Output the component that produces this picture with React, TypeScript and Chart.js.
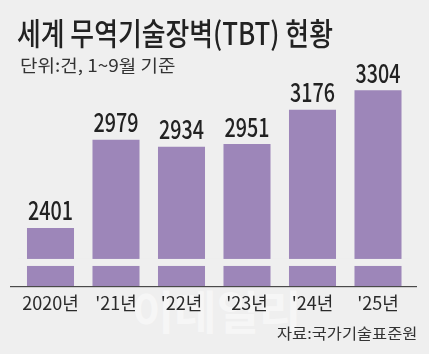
import React, { useEffect, useLayoutEffect, useRef } from "react";
import { Chart, registerables } from "chart.js";

Chart.register(...registerables);

const categories = ["2020년", "'21년", "'22년", "'23년", "'24년", "'25년"];
const values = [2401, 2979, 2934, 2951, 3176, 3304];
const axisMin = 2014;
const axisMax = 3500;
const breakLow = 2152;
const breakHigh = 2198;

const titleText = "세계 무역기술장벽(TBT) 현황";
const subtitleText = "단위:건, 1~9월 기준";
const sourceText = "자료:국가기술표준원";

const FONT = "'Noto Sans CJK KR', 'Noto Sans', sans-serif";
const BG = "#efefef";
const BAR = "#9d86b9";

type FitProps = {
  text: string;
  left: number;
  top: number;
  width: number;
  size: number;
  weight: number;
  color: string;
};

function FitText({ text, left, top, width, size, weight, color }: FitProps) {
  const ref = useRef<HTMLSpanElement>(null);
  useLayoutEffect(() => {
    const el = ref.current;
    if (!el) return;
    const w = el.offsetWidth;
    if (w > 0) el.style.transform = `scaleX(${width / w})`;
  });
  return (
    <span
      ref={ref}
      style={{
        position: "absolute",
        left,
        top,
        fontFamily: FONT,
        fontSize: size,
        fontWeight: weight,
        lineHeight: 1,
        color,
        whiteSpace: "nowrap",
        transformOrigin: "0 0",
      }}
    >
      {text}
    </span>
  );
}

const decoPlugin = {
  id: "deco",
  afterDatasetsDraw(chart: any) {
    const { ctx, chartArea, scales } = chart;
    const y = scales.y;
    const yTop = y.getPixelForValue(breakHigh);
    const yBot = y.getPixelForValue(breakLow);
    ctx.save();
    ctx.fillStyle = BG;
    ctx.fillRect(chartArea.left, yTop, chartArea.right - chartArea.left, yBot - yTop);
    // axis line
    ctx.fillStyle = "#4a4a4a";
    ctx.fillRect(10, Math.round(chartArea.bottom) - 1, 407, 1.2);
    // value labels
    const meta = chart.getDatasetMeta(0);
    ctx.fillStyle = "#222";
    ctx.font = `500 26px ${FONT}`;
    ctx.textAlign = "center";
    ctx.textBaseline = "alphabetic";
    meta.data.forEach((bar: any, i: number) => {
      ctx.fillText(String(values[i]), bar.x, bar.y - 7.5, 45);
    });
    ctx.restore();
  },
};

export default function App() {
  const canvasRef = useRef<HTMLCanvasElement>(null);

  useEffect(() => {
    const canvas = canvasRef.current;
    if (!canvas) return;
    const chart = new Chart(canvas, {
      type: "bar",
      data: {
        labels: categories,
        datasets: [
          {
            data: values,
            backgroundColor: BAR,
            borderWidth: 0,
            categoryPercentage: 1,
            barPercentage: 0.718,
          },
        ],
      },
      options: {
        animation: false,
        responsive: false,
        devicePixelRatio: 1,
        layout: { padding: { left: 17.75, right: 18.25, top: 60.4, bottom: 35.4 } },
        plugins: {
          legend: { display: false },
          title: { display: false },
          tooltip: { enabled: false },
        },
        scales: {
          x: {
            grid: { display: false, drawTicks: false },
            border: { display: false },
            ticks: {
              color: "#2a2a2a",
              padding: 5,
              font: { family: FONT, size: 18, weight: 400 },
            },
          },
          y: {
            display: false,
            min: axisMin,
            max: axisMax,
          },
        },
      },
      plugins: [decoPlugin],
    });
    return () => chart.destroy();
  }, []);

  return (
    <div
      style={{
        position: "fixed",
        left: 0,
        top: 0,
        width: 429,
        height: 354,
        background: BG,
        overflow: "hidden",
      }}
    >
      <span
        style={{
          position: "absolute",
          left: 132,
          top: 286,
          fontFamily: FONT,
          fontSize: 46,
          fontWeight: 700,
          color: "rgba(255,255,255,0.45)",
          whiteSpace: "nowrap",
          lineHeight: 1,
        }}
      >
        이데일리
      </span>
      <canvas
        ref={canvasRef}
        width={429}
        height={354}
        style={{ position: "absolute", left: 0, top: 0, width: 429, height: 354 }}
      />
      <FitText text={titleText} left={17} top={15.7} width={316} size={31} weight={500} color="#222" />
      <FitText text={subtitleText} left={20} top={55.6} width={155} size={17.5} weight={400} color="#333" />
      <FitText text={sourceText} left={277} top={325.4} width={140} size={15} weight={400} color="#333" />
    </div>
  );
}
